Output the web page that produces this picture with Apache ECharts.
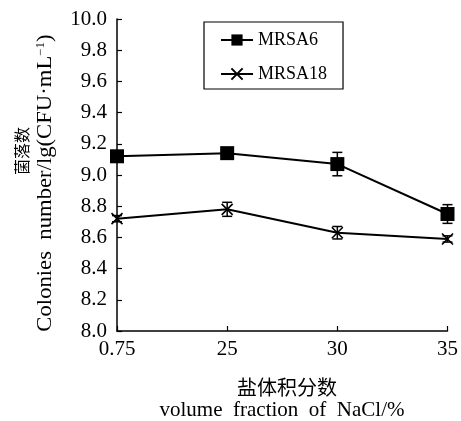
<!DOCTYPE html>
<html><head><meta charset="utf-8">
<script src="https://cdn.jsdelivr.net/npm/echarts@6/dist/echarts.min.js"></script>
<style>html,body{margin:0;padding:0;background:#fff}#c{width:461px;height:421px}</style>
</head><body><div id="c"></div>
<script>
var categories = ['0.75', '25', '30', '35'];
var mrsa6 = [9.12, 9.14, 9.07, 8.75];
var mrsa6Err = [0.02, 0.02, 0.075, 0.06];
var mrsa18 = [8.72, 8.78, 8.63, 8.59];
var mrsa18Err = [0.02, 0.045, 0.04, 0.02];
var yMin = 8.0, yMax = 10.0, yStep = 0.2;

var serif = '"Liberation Serif","Times New Roman",serif';
var cjk = '"Noto Sans CJK SC",sans-serif';
var xPath = 'path://M0,0L10,10M0,10L10,0';

function errData(vals, errs) {
  return vals.map(function (v, i) { return [i, v - errs[i], v + errs[i]]; });
}
function errRender(params, api) {
  var i = api.value(0);
  var lo = api.coord([i, api.value(1)]);
  var hi = api.coord([i, api.value(2)]);
  var w = 5;
  var st = { stroke: '#000', lineWidth: 1.5 };
  return { type: 'group', children: [
    { type: 'line', shape: { x1: lo[0], y1: lo[1], x2: hi[0], y2: hi[1] }, style: st },
    { type: 'line', shape: { x1: lo[0] - w, y1: lo[1], x2: lo[0] + w, y2: lo[1] }, style: st },
    { type: 'line', shape: { x1: hi[0] - w, y1: hi[1], x2: hi[0] + w, y2: hi[1] }, style: st }
  ]};
}

var chart = echarts.init(document.getElementById('c'), null, { renderer: 'canvas' });
chart.setOption({
  animation: false,
  backgroundColor: '#fff',
  grid: { left: 117, right: 8, top: 19, bottom: 90, containLabel: false },
  legend: {
    orient: 'vertical', left: 204, top: 22,
    padding: [9, 16, 6, 16], itemGap: 16,
    itemWidth: 32, itemHeight: 14,
    borderColor: '#000', borderWidth: 1.2,
    textStyle: { fontFamily: serif, fontSize: 18, color: '#000' },
    data: ['MRSA6', 'MRSA18']
  },
  xAxis: {
    type: 'category', data: categories, boundaryGap: false,
    axisLine: { lineStyle: { color: '#000', width: 1.5 } },
    axisTick: { inside: true, length: 5, lineStyle: { color: '#000', width: 1.2 } },
    axisLabel: { fontFamily: serif, fontSize: 21, color: '#000', margin: 8 }
  },
  yAxis: {
    type: 'value', min: yMin, max: yMax, interval: yStep,
    axisLine: { show: true, lineStyle: { color: '#000', width: 1.5 } },
    axisTick: { show: true, inside: true, length: 5, lineStyle: { color: '#000', width: 1.2 } },
    splitLine: { show: false },
    axisLabel: { fontFamily: serif, fontSize: 21, color: '#000', margin: 10,
      formatter: function (v) { return v.toFixed(1); } }
  },
  graphic: [
    { type: 'text', x: 22, y: 151, rotation: Math.PI / 2,
      style: { text: '菌落数', font: '16px ' + cjk, fill: '#000', align: 'center', verticalAlign: 'middle' } },
    { type: 'text', x: 45, y: 183, rotation: Math.PI / 2, scaleX: 1.08,
      style: { text: 'Colonies\u2002number/lg(CFU·mL{s|−1})', fill: '#000', align: 'center', verticalAlign: 'middle',
        font: '21px ' + serif,
        rich: { s: { fontFamily: serif, fontSize: 12, verticalAlign: 'top', padding: [0, 0, 9, 0] } } } },
    { type: 'text', x: 287, y: 387,
      style: { text: '盐体积分数', font: '20px ' + cjk, fill: '#000', align: 'center', verticalAlign: 'middle' } },
    { type: 'text', x: 282, y: 410,
      style: { text: 'volume\u2002fraction\u2002of\u2002NaCl/%', font: '21px ' + serif, fill: '#000', align: 'center', verticalAlign: 'middle' } }
  ],
  series: [
    { name: 'MRSA6', type: 'line', data: mrsa6, symbol: 'rect', symbolSize: 14,
      lineStyle: { color: '#000', width: 2 }, itemStyle: { color: '#000' }, z: 3 },
    { name: 'MRSA18', type: 'line', data: mrsa18, symbol: xPath, symbolSize: 11,
      lineStyle: { color: '#000', width: 2 },
      itemStyle: { color: '#000', borderColor: '#000', borderWidth: 1.6 }, z: 3 },
    { type: 'custom', data: errData(mrsa6, mrsa6Err), renderItem: errRender, z: 2, silent: true },
    { type: 'custom', data: errData(mrsa18, mrsa18Err), renderItem: errRender, z: 2, silent: true }
  ]
});
</script></body></html>
